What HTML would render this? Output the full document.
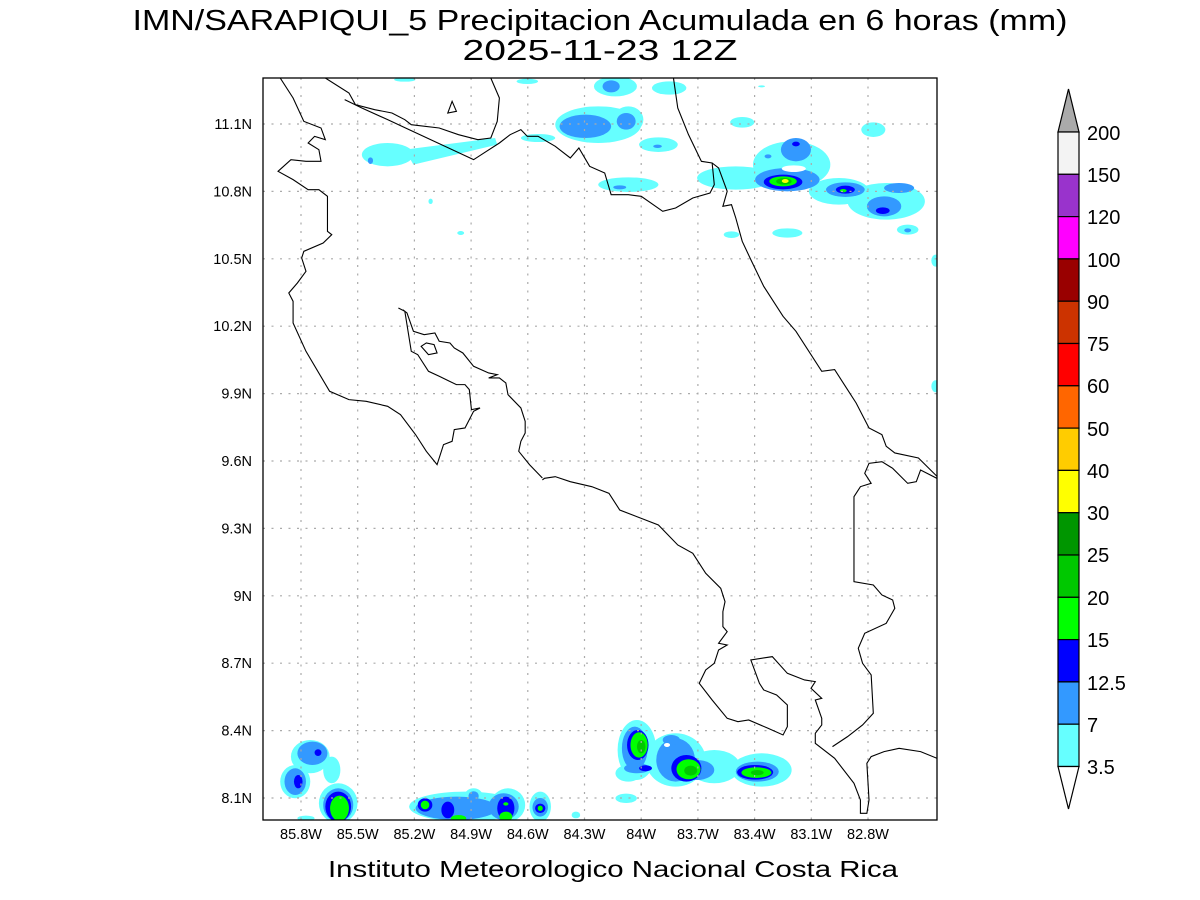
<!DOCTYPE html>
<html><head><meta charset="utf-8"><style>
html,body{margin:0;padding:0;background:#fff;}
svg{display:block}
text{font-family:"Liberation Sans",sans-serif;fill:#000}
</style></head><body>
<svg width="1200" height="900" viewBox="0 0 1200 900" xmlns="http://www.w3.org/2000/svg">
<rect width="1200" height="900" fill="#fff"/>
<text x="600" y="30" font-size="29" text-anchor="middle" textLength="935" lengthAdjust="spacingAndGlyphs" fill="#222">IMN/SARAPIQUI_5 Precipitacion Acumulada en 6 horas (mm)</text>
<text x="600" y="60" font-size="29" text-anchor="middle" textLength="275" lengthAdjust="spacingAndGlyphs" fill="#222">2025-11-23 12Z</text>
<defs><clipPath id="c"><rect x="263" y="78" width="674" height="742"/></clipPath></defs>
<g clip-path="url(#c)">
<g transform="translate(263,78) scale(0.4298,0.3333)">
<g fill="#66ffff">
<ellipse cx="290" cy="230" rx="60" ry="35"/><path d="M330 215 L540 180 L545 200 L350 260 Z"/>
<ellipse cx="780" cy="140" rx="100" ry="55"/><ellipse cx="850" cy="125" rx="35" ry="40"/>
<ellipse cx="820" cy="25" rx="50" ry="30"/><ellipse cx="945" cy="30" rx="40" ry="20"/>
<ellipse cx="615" cy="10" rx="25" ry="8"/><ellipse cx="330" cy="5" rx="25" ry="6"/>
<ellipse cx="920" cy="200" rx="45" ry="22"/><ellipse cx="850" cy="320" rx="70" ry="22"/>
<ellipse cx="1115" cy="133" rx="28" ry="16"/><ellipse cx="1420" cy="155" rx="28" ry="22"/>
<ellipse cx="1160" cy="25" rx="8" ry="3"/>
<ellipse cx="1100" cy="300" rx="90" ry="35"/><ellipse cx="1230" cy="260" rx="90" ry="70"/>
<ellipse cx="1340" cy="340" rx="70" ry="40"/><ellipse cx="1450" cy="370" rx="90" ry="55"/>
<ellipse cx="1220" cy="465" rx="35" ry="14"/><ellipse cx="1090" cy="470" rx="18" ry="10"/>
<ellipse cx="1500" cy="455" rx="25" ry="15"/><ellipse cx="390" cy="370" rx="5" ry="8"/>
<ellipse cx="460" cy="465" rx="8" ry="6"/><ellipse cx="1565" cy="548" rx="10" ry="18"/>
<ellipse cx="1565" cy="925" rx="10" ry="18"/><ellipse cx="640" cy="180" rx="40" ry="12"/>
</g>
<g fill="#3399ff">
<ellipse cx="750" cy="145" rx="60" ry="35"/><ellipse cx="845" cy="130" rx="22" ry="25"/>
<ellipse cx="810" cy="25" rx="20" ry="18"/><ellipse cx="830" cy="328" rx="15" ry="6"/>
<ellipse cx="1240" cy="215" rx="35" ry="35"/><ellipse cx="1220" cy="305" rx="75" ry="35"/>
<ellipse cx="1355" cy="335" rx="45" ry="22"/><ellipse cx="1445" cy="385" rx="40" ry="30"/>
<ellipse cx="1480" cy="330" rx="35" ry="15"/><ellipse cx="250" cy="248" rx="6" ry="10"/>
<ellipse cx="1175" cy="235" rx="8" ry="6"/><ellipse cx="1500" cy="457" rx="8" ry="6"/>
<ellipse cx="918" cy="205" rx="10" ry="5"/>
</g>
<ellipse cx="1235" cy="272" rx="28" ry="10" fill="#fff"/>
<g fill="#0000ff"><ellipse cx="1210" cy="312" rx="45" ry="22"/><ellipse cx="1355" cy="335" rx="22" ry="12"/><ellipse cx="1442" cy="398" rx="16" ry="10"/><ellipse cx="1240" cy="198" rx="9" ry="7"/></g>
<g fill="#00ff00"><ellipse cx="1210" cy="310" rx="32" ry="15"/><ellipse cx="1350" cy="338" rx="8" ry="5"/></g>
<ellipse cx="1212" cy="310" rx="18" ry="10" fill="#00c800"/>
<ellipse cx="1215" cy="309" rx="8" ry="6" fill="#ffff00"/>
</g>
<g transform="translate(263,430) scale(0.4298,0.3333)">
<g fill="#66ffff">
<ellipse cx="870" cy="960" rx="45" ry="90"/><ellipse cx="960" cy="990" rx="70" ry="80"/><ellipse cx="1050" cy="1010" rx="60" ry="50"/>
<ellipse cx="1160" cy="1020" rx="70" ry="50"/><ellipse cx="850" cy="1030" rx="30" ry="25"/><ellipse cx="845" cy="1105" rx="25" ry="14"/>
<ellipse cx="110" cy="980" rx="45" ry="50"/><ellipse cx="75" cy="1055" rx="35" ry="50"/><ellipse cx="175" cy="1120" rx="45" ry="60"/><ellipse cx="160" cy="1020" rx="20" ry="40"/>
<ellipse cx="470" cy="1130" rx="130" ry="45"/><ellipse cx="570" cy="1125" rx="40" ry="50"/><ellipse cx="490" cy="1095" rx="20" ry="20"/>
<ellipse cx="645" cy="1130" rx="25" ry="45"/><ellipse cx="728" cy="1155" rx="10" ry="10"/><ellipse cx="100" cy="1165" rx="20" ry="8"/>
</g>
<g fill="#3399ff">
<ellipse cx="865" cy="955" rx="30" ry="65"/><ellipse cx="960" cy="990" rx="45" ry="65"/><ellipse cx="1010" cy="1020" rx="40" ry="30"/>
<ellipse cx="1150" cy="1025" rx="50" ry="30"/><ellipse cx="950" cy="930" rx="20" ry="15"/><ellipse cx="870" cy="1015" rx="30" ry="15"/>
<ellipse cx="115" cy="970" rx="35" ry="35"/><ellipse cx="75" cy="1055" rx="25" ry="40"/><ellipse cx="175" cy="1125" rx="35" ry="50"/>
<ellipse cx="450" cy="1135" rx="95" ry="35"/><ellipse cx="560" cy="1130" rx="35" ry="40"/><ellipse cx="490" cy="1098" rx="12" ry="14"/><ellipse cx="645" cy="1132" rx="18" ry="28"/>
</g>
<ellipse cx="940" cy="945" rx="7" ry="6" fill="#fff"/>
<g fill="#0000ff">
<ellipse cx="872" cy="945" rx="25" ry="45"/><ellipse cx="985" cy="1015" rx="35" ry="40"/><ellipse cx="1145" cy="1027" rx="42" ry="22"/>
<ellipse cx="890" cy="1015" rx="15" ry="9"/><ellipse cx="128" cy="968" rx="8" ry="10"/><ellipse cx="82" cy="1055" rx="10" ry="20"/>
<ellipse cx="175" cy="1130" rx="30" ry="45"/><ellipse cx="377" cy="1125" rx="17" ry="20"/><ellipse cx="430" cy="1140" rx="15" ry="25"/>
<ellipse cx="565" cy="1135" rx="20" ry="35"/><ellipse cx="645" cy="1135" rx="12" ry="14"/>
</g>
<g fill="#00ff00">
<ellipse cx="875" cy="945" rx="20" ry="38"/><ellipse cx="990" cy="1018" rx="28" ry="30"/><ellipse cx="1148" cy="1028" rx="35" ry="16"/>
<ellipse cx="178" cy="1135" rx="22" ry="38"/><ellipse cx="377" cy="1125" rx="10" ry="13"/><ellipse cx="455" cy="1165" rx="18" ry="10"/>
<ellipse cx="565" cy="1160" rx="15" ry="15"/><ellipse cx="645" cy="1135" rx="6" ry="8"/><ellipse cx="565" cy="1122" rx="6" ry="5"/>
</g>
<g fill="#00c800"><ellipse cx="880" cy="950" rx="10" ry="20"/><ellipse cx="995" cy="1022" rx="15" ry="15"/><ellipse cx="1150" cy="1028" rx="15" ry="8"/></g>
</g>
<g stroke="#aaa" stroke-width="1.2" stroke-dasharray="2,6.5">
<line x1="301" y1="78" x2="301" y2="820"/><line x1="357.7" y1="78" x2="357.7" y2="820"/><line x1="414.4" y1="78" x2="414.4" y2="820"/><line x1="471.1" y1="78" x2="471.1" y2="820"/><line x1="527.8" y1="78" x2="527.8" y2="820"/><line x1="584.5" y1="78" x2="584.5" y2="820"/><line x1="641.2" y1="78" x2="641.2" y2="820"/><line x1="697.9" y1="78" x2="697.9" y2="820"/><line x1="754.6" y1="78" x2="754.6" y2="820"/><line x1="811.3" y1="78" x2="811.3" y2="820"/><line x1="868" y1="78" x2="868" y2="820"/>
<line x1="263" y1="124" x2="937" y2="124"/><line x1="263" y1="191.4" x2="937" y2="191.4"/><line x1="263" y1="258.8" x2="937" y2="258.8"/><line x1="263" y1="326.2" x2="937" y2="326.2"/><line x1="263" y1="393.6" x2="937" y2="393.6"/><line x1="263" y1="461" x2="937" y2="461"/><line x1="263" y1="528.4" x2="937" y2="528.4"/><line x1="263" y1="595.8" x2="937" y2="595.8"/><line x1="263" y1="663.2" x2="937" y2="663.2"/><line x1="263" y1="730.6" x2="937" y2="730.6"/><line x1="263" y1="798" x2="937" y2="798"/>
</g>
<g fill="none" stroke="#000" stroke-width="1.1">
<g transform="translate(263,78) scale(0.4298,0.3333)">
<polyline vector-effect="non-scaling-stroke" points="40,0 70,60 95,130 135,150 145,185 120,175 105,195 130,215 135,250 100,250 65,245 35,280 70,305 105,335 130,335 150,355 150,460 160,470 140,495 95,520 90,540 100,580 80,615 60,645 70,670 70,735 100,820 155,940 200,965 240,970 290,985 320,1010 355,1070 380,1120 405,1160 420,1100 440,1090 445,1055 470,1050 490,1000 505,990 485,995 480,935 470,920 450,920 410,895 385,880 360,830 345,820 330,700 315,690"/>
<polyline vector-effect="non-scaling-stroke" points="325,695 335,705 350,760 375,770 400,765 410,790 435,795 445,810 465,825 490,865 525,885 545,890 525,900 550,900 565,915 570,950 600,990 610,1030 610,1065 600,1090 595,1120 620,1160 650,1200"/>
<polyline vector-effect="non-scaling-stroke" points="145,0 200,45 215,80 260,95 300,105 330,125 345,140 410,150 455,170 500,185 530,180 545,130 550,60 530,0"/>
<polyline vector-effect="non-scaling-stroke" points="190,65 230,90 290,125 490,245 520,220 550,195 575,170 600,155 615,175 640,175 680,205 715,240 735,210 760,265 795,285 810,350 850,350 880,355 930,400 960,390 1000,360 1040,345 1050,320 1045,255"/>
<polygon vector-effect="non-scaling-stroke" points="430,105 440,70 450,100"/>
<polygon vector-effect="non-scaling-stroke" points="368,805 380,795 398,800 405,825 385,830"/>
<polyline vector-effect="non-scaling-stroke" points="955,0 965,90 990,170 1020,250 1045,255 1060,270 1080,340 1070,385 1090,380 1100,420 1115,490 1135,545 1165,625 1210,715 1240,760 1300,880 1330,875 1355,925 1380,975 1410,1050 1440,1070 1450,1105 1470,1125 1525,1140 1568,1195"/>
</g>
<g transform="translate(263,430) scale(0.4298,0.3333)">
<polyline vector-effect="non-scaling-stroke" points="650,150 655,145 680,140 715,155 765,170 805,190 830,240 860,255 920,285 965,345 1000,370 1030,430 1065,475 1075,515 1070,545 1070,590 1080,605 1060,640 1080,645 1060,660 1050,700 1030,720 1015,760 1045,810 1080,865 1105,875 1130,870 1175,895 1210,915 1220,890 1220,825 1195,795 1165,780 1155,760 1135,690 1185,680 1220,730 1260,750 1285,755 1275,775 1300,805 1285,810 1300,865 1300,885 1285,910 1285,940 1330,985 1375,1060 1390,1110 1390,1150 1405,1150 1410,1110 1405,1000 1415,980 1445,965 1480,955 1530,965 1568,985"/>
<polyline vector-effect="non-scaling-stroke" points="1325,950 1360,920 1395,885 1420,850 1415,735 1395,700 1385,655 1400,610 1450,580 1470,535 1465,510 1440,495 1420,465 1375,455 1375,200 1390,170 1415,160 1400,130 1410,100 1440,95 1465,115 1500,160 1520,155 1530,120 1568,145"/>
</g>
</g>
</g>
<rect x="263" y="78" width="674" height="742" fill="none" stroke="#000" stroke-width="1.3"/>
<g font-size="14.5" text-anchor="middle">
<text x="301" y="839">85.8W</text><text x="357.7" y="839">85.5W</text><text x="414.4" y="839">85.2W</text><text x="471.1" y="839">84.9W</text><text x="527.8" y="839">84.6W</text><text x="584.5" y="839">84.3W</text><text x="641.2" y="839">84W</text><text x="697.9" y="839">83.7W</text><text x="754.6" y="839">83.4W</text><text x="811.3" y="839">83.1W</text><text x="868" y="839">82.8W</text>
</g>
<g font-size="14.5" text-anchor="end">
<text x="252" y="129">11.1N</text><text x="252" y="196.4">10.8N</text><text x="252" y="263.8">10.5N</text><text x="252" y="331.2">10.2N</text><text x="252" y="398.6">9.9N</text><text x="252" y="466">9.6N</text><text x="252" y="533.4">9.3N</text><text x="252" y="600.8">9N</text><text x="252" y="668.2">8.7N</text><text x="252" y="735.6">8.4N</text><text x="252" y="803">8.1N</text>
</g>
<text x="613" y="877" font-size="23" text-anchor="middle" textLength="570" lengthAdjust="spacingAndGlyphs" fill="#444">Instituto Meteorologico Nacional Costa Rica</text>
<g stroke="#000" stroke-width="1.2">
<polygon points="1058,132 1079,132 1068.5,89" fill="#aaaaaa"/>
<rect x="1058" y="132" width="21" height="42.3" fill="#f3f3f3"/>
<rect x="1058" y="174.3" width="21" height="42.3" fill="#9933cc"/>
<rect x="1058" y="216.6" width="21" height="42.3" fill="#ff00ff"/>
<rect x="1058" y="258.9" width="21" height="42.3" fill="#990000"/>
<rect x="1058" y="301.2" width="21" height="42.3" fill="#cc3300"/>
<rect x="1058" y="343.5" width="21" height="42.3" fill="#ff0000"/>
<rect x="1058" y="385.8" width="21" height="42.3" fill="#ff6600"/>
<rect x="1058" y="428.1" width="21" height="42.3" fill="#ffcc00"/>
<rect x="1058" y="470.4" width="21" height="42.3" fill="#ffff00"/>
<rect x="1058" y="512.7" width="21" height="42.3" fill="#009600"/>
<rect x="1058" y="555" width="21" height="42.3" fill="#00c800"/>
<rect x="1058" y="597.3" width="21" height="42.3" fill="#00ff00"/>
<rect x="1058" y="639.6" width="21" height="42.3" fill="#0000ff"/>
<rect x="1058" y="681.9" width="21" height="42.3" fill="#3399ff"/>
<rect x="1058" y="724.2" width="21" height="42.3" fill="#66ffff"/>
<polygon points="1058,766.5 1079,766.5 1068.5,809" fill="#fff"/>
</g>
<g font-size="20">
<text x="1087" y="140">200</text><text x="1087" y="182">150</text><text x="1087" y="224">120</text><text x="1087" y="267">100</text><text x="1087" y="309">90</text><text x="1087" y="351">75</text><text x="1087" y="393">60</text><text x="1087" y="436">50</text><text x="1087" y="478">40</text><text x="1087" y="520">30</text><text x="1087" y="562">25</text><text x="1087" y="605">20</text><text x="1087" y="647">15</text><text x="1087" y="690">12.5</text><text x="1087" y="732">7</text><text x="1087" y="774">3.5</text>
</g>
</svg>
</body></html>
